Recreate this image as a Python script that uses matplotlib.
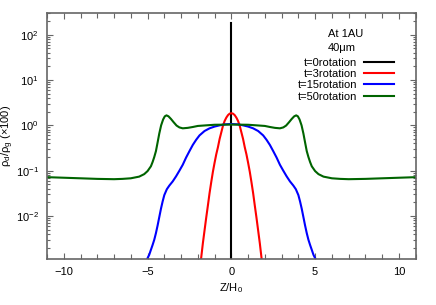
import matplotlib
matplotlib.use("Agg")
import matplotlib.pyplot as plt
import numpy as np
from matplotlib.ticker import MultipleLocator, LogLocator, NullFormatter

plt.rcParams['font.family'] = ['Liberation Sans', 'DejaVu Sans']
plt.rcParams['font.size'] = 8
plt.rcParams['mathtext.fontset'] = 'custom'
plt.rcParams['mathtext.rm'] = 'Liberation Sans'
plt.rcParams['mathtext.it'] = 'Liberation Sans:italic'
plt.rcParams['mathtext.default'] = 'regular'

# ---- data ----
labels = ["t=0rotation", "t=3rotation", "t=15rotation", "t=50rotation"]
colors = ["#000000", "#ff0000", "#0000ff", "#006400"]

z_t0 = [0.0, 0.0]
r_t0 = [1e-4, 180.0]

z_t3_half = [0.0, 0.1, 0.2, 0.3, 0.4, 0.5, 0.6, 0.7, 0.8, 0.9, 1.0, 1.1, 1.2, 1.3,
             1.4, 1.5, 1.6, 1.7, 1.8, 1.9]
r_t3_half = [1.85, 1.81, 1.68, 1.48, 1.25, 0.98, 0.70, 0.50, 0.33, 0.23, 0.15, 0.095,
             0.056, 0.032, 0.017, 0.0092, 0.0048, 0.0025, 0.0012, 0.0006]

z_t15_half = [0.0, 0.4, 0.7, 1.0, 1.3, 1.6, 1.9, 2.1, 2.3, 2.5, 2.7, 2.9, 3.1, 3.3,
              3.5, 3.7, 3.85, 4.0, 4.1, 4.2, 4.3, 4.4, 4.5, 4.6, 4.7, 4.8, 4.9,
              5.0, 5.15]
r_t15_half = [1.07, 1.05, 1.0, 0.94, 0.86, 0.75, 0.60, 0.48, 0.37, 0.27, 0.195,
              0.135, 0.10, 0.075, 0.058, 0.047, 0.039, 0.029, 0.021, 0.0145, 0.0095,
              0.0062, 0.0042, 0.0030, 0.0023, 0.0018, 0.0014, 0.00118, 0.0008]

z_t50_half = [0.0, 1.0, 1.5, 2.0, 2.3, 2.6, 2.9, 3.1, 3.27, 3.45, 3.6, 3.75, 3.87,
              3.97, 4.07, 4.19, 4.3, 4.4, 4.5, 4.6, 4.7, 4.8, 5.0, 5.2, 5.5, 6.0,
              6.5, 7.0, 8.0, 9.0, 10.0, 11.0]
r_t50_half = [1.04, 1.03, 1.0, 0.97, 0.92, 0.88, 0.86, 0.90, 0.99, 1.18, 1.38, 1.58,
              1.66, 1.58, 1.35, 1.0, 0.66, 0.42, 0.27, 0.20, 0.155, 0.125, 0.098,
              0.084, 0.074, 0.068, 0.066, 0.065, 0.066, 0.068, 0.070, 0.072]


def mirror(z, r):
    z = np.asarray(z)
    r = np.asarray(r)
    return np.concatenate([-z[:0:-1], z]), np.concatenate([r[:0:-1], r])


series = [
    (np.asarray(z_t0), np.asarray(r_t0)),
    mirror(z_t3_half, r_t3_half),
    mirror(z_t15_half, r_t15_half),
    mirror(z_t50_half, r_t50_half),
]

fig = plt.figure(figsize=(4.36, 3.05), dpi=100)
ax = fig.add_axes([0.1078, 0.1508, 0.8456, 0.8066])

for (z, r), c, lab in zip(series, colors, labels):
    ax.plot(z, r, color=c, lw=1.5, label=lab, solid_joinstyle='round')

ax.set_yscale('log')
ax.set_xlim(-11, 11)
ax.set_ylim(1.13e-3, 300)
ax.xaxis.set_major_locator(MultipleLocator(5))
ax.xaxis.set_minor_locator(MultipleLocator(1))
ax.yaxis.set_major_locator(LogLocator(base=10, numticks=20))
ax.yaxis.set_minor_locator(LogLocator(base=10, subs=np.arange(2, 10), numticks=20))
ax.yaxis.set_minor_formatter(NullFormatter())

ax.tick_params(which='both', direction='in', top=True, right=True, color='#666666')
ax.tick_params(which='major', length=4, width=0.8, pad=6)
ax.tick_params(which='minor', length=2.5, width=0.8)
ax.tick_params(axis='x', which='minor', length=3.5)
for sp in ax.spines.values():
    sp.set_color('#666666')
    sp.set_linewidth(1.2)

ax.set_xlabel('Z/H$_0$', labelpad=3)
ax.set_ylabel('ρ$_d$/ρ$_g$ (×100)')
ax.yaxis.set_label_coords(-0.084, 0.5)

leg = ax.legend(loc='upper right', bbox_to_anchor=(0.94, 0.935), frameon=False,
                markerfirst=False, handlelength=2.65, handletextpad=0.65,
                labelspacing=0.12, borderpad=0, borderaxespad=0,
                title='At 1AU\n40μm', title_fontsize=8)
leg.get_title().set_linespacing(1.55)
leg._legend_box.sep = 3

fig.savefig('out.png', dpi=100)
